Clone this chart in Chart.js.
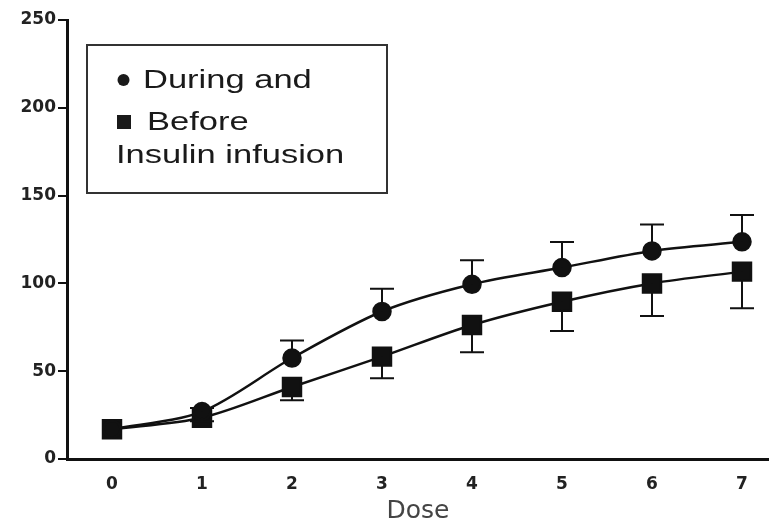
<!DOCTYPE html>
<html>
<head>
<meta charset="utf-8">
<script src="https://cdn.jsdelivr.net/npm/chart.js@4.4.1/dist/chart.umd.min.js"></script>
<style>
  html, body { margin: 0; padding: 0; background: #fff; }
  #wrap { position: relative; width: 769px; height: 527px; }
</style>
</head>
<body>
<div id="wrap"><canvas id="c" width="769" height="527"></canvas></div>
<script>
// ---- Data ----
const doses = [0, 1, 2, 3, 4, 5, 6, 7];
const duringValues = [17, 27, 57.5, 84, 99.5, 109, 118.5, 123.7];
const duringErrUp = [0, 2, 10, 13, 13.7, 14.6, 15, 15.3];
const beforeValues = [17, 23.5, 41, 58.3, 76.3, 89.6, 100, 106.7];
const beforeErrDown = [0, 2, 7.5, 12.3, 15.5, 16.7, 18.6, 20.9];
const yTicks = [0, 50, 100, 150, 200, 250];
const legendLines = ['During and', 'Before', 'Insulin infusion'];
const xTitle = 'Dose';

const errorBars = {
  id: 'errorBars',
  afterDatasetsDraw(chart) {
    const ctx = chart.ctx;
    const xs = chart.scales.x, ys = chart.scales.y;
    const specs = [
      { values: duringValues, err: duringErrUp, dir: 1 },
      { values: beforeValues, err: beforeErrDown, dir: -1 }
    ];
    ctx.save();
    ctx.strokeStyle = '#111';
    ctx.lineWidth = 2;
    specs.forEach(s => {
      doses.forEach((d, i) => {
        if (!s.err[i]) return;
        const px = xs.getPixelForValue(d);
        const p0 = ys.getPixelForValue(s.values[i]);
        const p1 = ys.getPixelForValue(s.values[i] + s.dir * s.err[i]);
        ctx.beginPath();
        ctx.moveTo(px, p0); ctx.lineTo(px, p1);
        ctx.moveTo(px - 12, p1); ctx.lineTo(px + 12, p1);
        ctx.stroke();
      });
    });
    ctx.restore();
  }
};

function stretchedText(ctx, text, x, y, sx) {
  ctx.save();
  ctx.translate(x, y);
  ctx.scale(sx, 1);
  ctx.fillText(text, 0, 0);
  ctx.restore();
}

const boxLegend = {
  id: 'boxLegend',
  afterDraw(chart) {
    const ctx = chart.ctx;
    ctx.save();
    ctx.strokeStyle = '#333';
    ctx.lineWidth = 2;
    ctx.strokeRect(87, 45, 300, 148);
    ctx.fillStyle = '#1a1a1a';
    ctx.font = '25px "Liberation Sans", Arial, sans-serif';
    ctx.textBaseline = 'alphabetic';
    ctx.textAlign = 'left';
    ctx.beginPath(); ctx.arc(123.5, 80, 6, 0, Math.PI * 2); ctx.fill();
    stretchedText(ctx, legendLines[0], 143, 88, 1.38);
    ctx.fillRect(117, 115, 14, 14);
    stretchedText(ctx, legendLines[1], 147, 130, 1.38);
    stretchedText(ctx, legendLines[2], 116, 163, 1.38);
    ctx.restore();
  }
};

new Chart(document.getElementById('c'), {
  type: 'line',
  data: {
    datasets: [
      {
        label: 'During',
        data: doses.map((d, i) => ({ x: d, y: duringValues[i] })),
        borderColor: '#111', backgroundColor: '#111',
        borderWidth: 2.5, tension: 0.3,
        pointStyle: 'circle', pointRadius: 8.5, pointHoverRadius: 8.5
      },
      {
        label: 'Before',
        data: doses.map((d, i) => ({ x: d, y: beforeValues[i] })),
        borderColor: '#111', backgroundColor: '#111',
        borderWidth: 2.5, tension: 0.3,
        pointStyle: 'rect', pointRadius: 12.7, pointHoverRadius: 12.7
      }
    ]
  },
  options: {
    responsive: false,
    animation: false,
    devicePixelRatio: 1,
    layout: { autoPadding: false, padding: { top: 20, right: 0, left: 0, bottom: 0 } },
    plugins: { legend: { display: false }, tooltip: { enabled: false } },
    scales: {
      x: {
        type: 'linear', min: -0.5, max: 7.3,
        afterFit(s) { s.height = 68; s.paddingRight = 0; s.paddingLeft = 0; },
        afterBuildTicks(s) { s.ticks = doses.map(v => ({ value: v })); },
        grid: { display: true, drawOnChartArea: false, drawTicks: false },
        border: { display: true, color: '#111', width: 3 },
        ticks: { padding: 15, color: '#222', font: { family: 'DejaVu Sans', size: 17, weight: 'bold' } },
        title: { display: true, text: xTitle, color: '#444', padding: { top: 4, bottom: 1 },
                 font: { family: 'DejaVu Sans', size: 25 } }
      },
      y: {
        min: 0, max: 250,
        afterFit(s) { s.width = 67; s.paddingTop = 0; s.paddingBottom = 0; },
        afterBuildTicks(s) { s.ticks = yTicks.map(v => ({ value: v })); },
        grid: { display: true, drawOnChartArea: false, drawTicks: true, tickLength: 9, color: '#111', lineWidth: 2 },
        border: { display: true, color: '#111', width: 3 },
        ticks: { padding: 2, color: '#222', font: { family: 'DejaVu Sans', size: 17, weight: 'bold' } }
      }
    }
  },
  plugins: [errorBars, boxLegend]
});
</script>
</body>
</html>
